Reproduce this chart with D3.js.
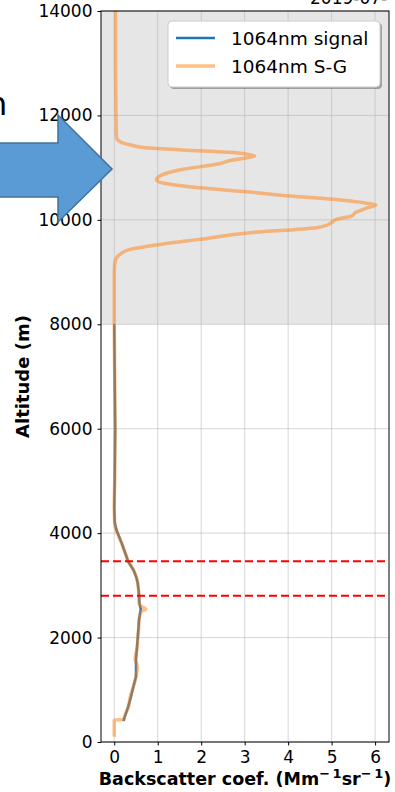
<!DOCTYPE html>
<html>
<head>
<meta charset="utf-8">
<script src="https://cdn.jsdelivr.net/npm/d3@7"></script>
<style>
  body { margin: 0; background: #fff; overflow: hidden; }
  svg { display: block; font-family: "DejaVu Sans", sans-serif; }
</style>
</head>
<body>
<div id="chart"></div>
<script>
// S-G smoothed profile (orange), altitude in m, backscatter in Mm-1 sr-1
var sgAlt = [14000, 13000, 12000, 11600, 11540, 11480, 11420, 11384, 11338, 11288, 11240, 11220,
  11190, 11140, 11064, 10968, 10860, 10757, 10700, 10648, 10585, 10533, 10456, 10393, 10320, 10284,
  10240, 10201, 10140, 10073, 10009, 9950, 9894, 9850, 9754, 9626, 9530, 9434, 9338, 9210, 9000,
  8000, 7000, 6000, 5000, 4500, 4200, 4065, 3810, 3600, 3457, 3298, 3150, 3043, 2900, 2786, 2650,
  2600, 2545, 2500, 2339, 2150, 1988, 1800, 1700, 1600, 1450, 1252, 1060, 850, 677, 500, 430, 420, 100];
var sgVal = [0.03, 0.03, 0.04, 0.05, 0.07, 0.17, 0.45, 0.66, 1.58, 2.73, 3.15, 3.23,
  3.05, 2.7, 2.35, 1.58, 1.1, 0.97, 1.15, 1.58, 2.35, 3.12, 4.04, 5.03, 5.8, 6.02,
  5.85, 5.73, 5.55, 5.46, 5.11, 5.0, 4.88, 4.65, 3.12, 1.97, 1.05, 0.36, 0.13, 0.02, 0.0,
  0.0, 0.01, 0.02, 0.01, 0.0, 0.01, 0.04, 0.17, 0.26, 0.32, 0.44, 0.51, 0.54, 0.56, 0.57, 0.57,
  0.62, 0.73, 0.62, 0.57, 0.56, 0.54, 0.53, 0.5, 0.48, 0.53, 0.5, 0.44, 0.36, 0.33, 0.24, 0.22, 0.0, 0.0];

// raw signal profile (blue)
var sigAlt = [8000, 7000, 6000, 5000, 4500, 4200, 4065, 3810, 3600, 3457, 3298, 3150, 3043, 2900,
  2786, 2650, 2545, 2450, 2339, 1988, 1800, 1572, 1252, 1060, 850, 677, 500, 400];
var sigVal = [0.0, 0.01, 0.02, 0.01, 0.0, 0.01, 0.05, 0.17, 0.26, 0.32, 0.44, 0.51, 0.54, 0.56,
  0.57, 0.58, 0.61, 0.59, 0.57, 0.54, 0.52, 0.5, 0.5, 0.44, 0.38, 0.32, 0.25, 0.21];

var xTicks = [0, 1, 2, 3, 4, 5, 6];
var yTicks = [0, 2000, 4000, 6000, 8000, 10000, 12000, 14000];
var layerBounds = [2800, 3460];
var shadeBand = [8000, 14000];
var seriesNames = ["1064nm signal", "1064nm S-G"];

var margin = { top: 11, bottom: 50, left: 101, right: 6 };

document.addEventListener("DOMContentLoaded", function () {
  drawProfile();
});

function drawProfile() {
  var width = 395;
  var height = 792;
  var innerWidth = width - margin.left - margin.right;
  var innerHeight = height - margin.top - margin.bottom;

  var svg = d3
    .select("#chart")
    .append("svg")
    .attr("width", width)
    .attr("height", height);

  var x = d3.scaleLinear().domain([-0.305, 6.32]).range([0, innerWidth]);
  var y = d3.scaleLinear().domain([0, 14000]).range([innerHeight, 0]);

  var g = svg
    .append("g")
    .attr("transform", "translate(" + margin.left + "," + margin.top + ")");

  // grey band (cloud region)
  g.append("rect")
    .attr("x", 0)
    .attr("width", innerWidth)
    .attr("y", y(shadeBand[1]))
    .attr("height", y(shadeBand[0]) - y(shadeBand[1]))
    .attr("fill", "#808080")
    .attr("fill-opacity", 0.2);

  // grid
  g.append("g")
    .selectAll("line")
    .data(xTicks)
    .enter()
    .append("line")
    .attr("x1", function (d) { return x(d); })
    .attr("x2", function (d) { return x(d); })
    .attr("y1", 0)
    .attr("y2", innerHeight)
    .attr("stroke", "#b0b0b0")
    .attr("stroke-opacity", 0.5)
    .attr("stroke-width", 1);

  g.append("g")
    .selectAll("line")
    .data(yTicks)
    .enter()
    .append("line")
    .attr("x1", 0)
    .attr("x2", innerWidth)
    .attr("y1", function (d) { return y(d); })
    .attr("y2", function (d) { return y(d); })
    .attr("stroke", "#b0b0b0")
    .attr("stroke-opacity", 0.5)
    .attr("stroke-width", 1);

  var line = d3
    .line()
    .x(function (d) { return x(d[0]); })
    .y(function (d) { return y(d[1]); });

  var sigPts = sigVal.map(function (v, i) { return [v, sigAlt[i]]; });
  var sgPts = sgVal.map(function (v, i) { return [v, sgAlt[i]]; });

  g.append("path")
    .datum(sigPts)
    .attr("d", line)
    .attr("fill", "none")
    .attr("stroke", "#1f77b4")
    .attr("stroke-width", 2.5);

  g.append("path")
    .datum(sgPts)
    .attr("d", line.curve(d3.curveMonotoneY))
    .attr("fill", "none")
    .attr("stroke", "#ff7f0e")
    .attr("stroke-opacity", 0.5)
    .attr("stroke-width", 3.5)
    .attr("stroke-linejoin", "round");

  // layer boundaries
  g.append("g")
    .selectAll("line")
    .data(layerBounds)
    .enter()
    .append("line")
    .attr("x1", 0)
    .attr("x2", innerWidth)
    .attr("y1", function (d) { return y(d); })
    .attr("y2", function (d) { return y(d); })
    .attr("stroke", "#ff0000")
    .attr("stroke-width", 2)
    .attr("stroke-dasharray", "8,4");

  // axes
  var xAxis = g
    .append("g")
    .attr("transform", "translate(0," + innerHeight + ")")
    .call(d3.axisBottom(x).tickValues(xTicks).tickSize(3.5).tickPadding(5).tickFormat(d3.format("d")));
  var yAxis = g
    .append("g")
    .call(d3.axisLeft(y).tickValues(yTicks).tickSize(3.5).tickPadding(5).tickFormat(d3.format("d")));

  [xAxis, yAxis].forEach(function (a) {
    a.select(".domain").remove();
    a.selectAll("text")
      .attr("font-family", "DejaVu Sans")
      .attr("font-size", 17)
      .attr("fill", "#000");
    a.selectAll("line").attr("stroke", "#000").attr("stroke-width", 1);
  });

  g.append("rect")
    .attr("width", innerWidth)
    .attr("height", innerHeight)
    .attr("fill", "none")
    .attr("stroke", "#000")
    .attr("stroke-width", 1);

  // axis labels
  var xl = svg
    .append("text")
    .attr("x", margin.left + innerWidth / 2)
    .attr("y", 785)
    .attr("text-anchor", "middle")
    .attr("font-size", 17.5)
    .attr("font-weight", "bold");
  xl.append("tspan").text("Backscatter coef. (Mm");
  xl.append("tspan").attr("dy", -7).attr("font-size", 13).text("\u2212\u20091");
  xl.append("tspan").attr("dy", 7).text("sr");
  xl.append("tspan").attr("dy", -7).attr("font-size", 13).text("\u2212\u20091");
  xl.append("tspan").attr("dy", 7).text(")");

  svg
    .append("text")
    .attr("transform", "translate(29," + (margin.top + y(7000)) + ") rotate(-90)")
    .attr("text-anchor", "middle")
    .attr("font-size", 18)
    .attr("font-weight", "bold")
    .text("Altitude (m)");

  // legend
  var leg = svg.append("g").attr("transform", "translate(168,21)");
  leg.append("rect")
    .attr("x", 2).attr("y", 2)
    .attr("width", 212).attr("height", 66)
    .attr("rx", 4)
    .attr("fill", "#000")
    .attr("fill-opacity", 0.3);
  leg.append("rect")
    .attr("width", 212).attr("height", 66)
    .attr("rx", 4)
    .attr("fill", "#fff")
    .attr("stroke", "#ccc")
    .attr("stroke-width", 1);

  var legColors = ["#1f77b4", "#ffbf86"];
  var legWidths = [2.5, 3.5];
  var item = leg.selectAll(".item")
    .data(seriesNames)
    .enter()
    .append("g")
    .attr("class", "item")
    .attr("transform", function (d, i) { return "translate(0," + (17 + i * 28) + ")"; });
  item.append("line")
    .attr("x1", 8).attr("x2", 47)
    .attr("stroke", function (d, i) { return legColors[i]; })
    .attr("stroke-width", function (d, i) { return legWidths[i]; });
  item.append("text")
    .attr("x", 63)
    .attr("y", 7)
    .attr("font-size", 18.5)
    .text(function (d) { return d; });

  // annotations cut off at the slide edge, as in the source image
  svg.append("text").attr("x", 310).attr("y", 4).attr("font-size", 17).text("2019-07-");
  svg.append("text").attr("x", -13).attr("y", 115).attr("font-size", 32).text("n");

  // big arrow
  var arrow = [[-5, 143], [58, 143], [58, 115], [112, 169], [58, 222], [58, 197], [-5, 197]];
  svg.append("path")
    .attr("d", d3.line()(arrow) + "Z")
    .attr("fill", "#5b9bd5")
    .attr("stroke", "#41719c")
    .attr("stroke-width", 1.5);
}
</script>
</body>
</html>
